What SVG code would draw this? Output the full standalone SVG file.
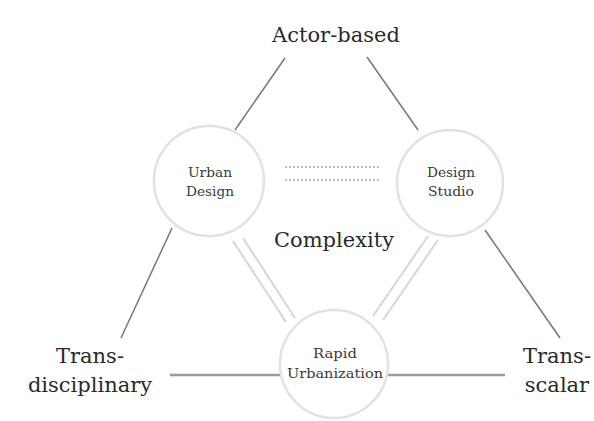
<svg xmlns="http://www.w3.org/2000/svg" width="594" height="421" viewBox="0 0 594 421">
<style>
.big{font-family:"DejaVu Serif","Liberation Serif",serif;font-size:21px;fill:#2a2a2a;text-anchor:middle}
.small{font-family:"DejaVu Serif","Liberation Serif",serif;font-size:13px;fill:#3a3a3a;text-anchor:middle}
.node{fill:#fff;stroke:#e2e2e2;stroke-width:2.5}
.solid{stroke:#777;stroke-width:1.5;fill:none}
.solidh{stroke:#9a9a9a;stroke-width:2.5;fill:none}
.dbl{stroke:#d6d6d6;stroke-width:2;fill:none}
.dot{stroke:#bbb;stroke-width:2;stroke-dasharray:2 2;fill:none}
</style>
<rect width="594" height="421" fill="#fff"/>
<g id="connectors">
<line class="solid" x1="285" y1="58" x2="235" y2="130"/>
<line class="solid" x1="367" y1="57" x2="418" y2="130"/>
<line class="solid" x1="172" y1="228" x2="121" y2="338"/>
<line class="solid" x1="485" y1="230" x2="560" y2="338"/>
<line class="solidh" x1="170" y1="375" x2="283" y2="375"/>
<line class="solidh" x1="387" y1="375" x2="505" y2="375"/>
<line class="dbl" x1="233" y1="241" x2="286" y2="322"/>
<line class="dbl" x1="243" y1="238" x2="295" y2="318"/>
<line class="dbl" x1="438" y1="240" x2="383" y2="320"/>
<line class="dbl" x1="428" y1="236" x2="373" y2="316"/>
<line class="dot" x1="285" y1="167" x2="380" y2="167"/>
<line class="dot" x1="285" y1="180" x2="380" y2="180"/>
</g>
<g id="urban-design">
<circle class="node" cx="209" cy="181" r="55"/>
<text class="small" x="210" y="177" textLength="44" lengthAdjust="spacingAndGlyphs">Urban</text>
<text class="small" x="210" y="196" textLength="48" lengthAdjust="spacingAndGlyphs">Design</text>
</g>
<g id="design-studio">
<circle class="node" cx="450" cy="183" r="53"/>
<text class="small" x="451" y="177" textLength="48" lengthAdjust="spacingAndGlyphs">Design</text>
<text class="small" x="451" y="196" textLength="46" lengthAdjust="spacingAndGlyphs">Studio</text>
</g>
<g id="rapid-urbanization">
<circle class="node" cx="334" cy="364" r="54"/>
<text class="small" x="335" y="358" textLength="44" lengthAdjust="spacingAndGlyphs">Rapid</text>
<text class="small" x="335" y="378" textLength="96" lengthAdjust="spacingAndGlyphs">Urbanization</text>
</g>
<g id="actor-based"><text class="big" x="336" y="42" font-size="22">Actor-based</text></g>
<g id="complexity"><text class="big" x="334" y="247" font-size="21.5">Complexity</text></g>
<g id="trans-disciplinary"><text class="big" x="90" y="363" font-size="20">Trans-</text><text class="big" x="90" y="392" font-size="20.5">disciplinary</text></g>
<g id="trans-scalar"><text class="big" x="557" y="363">Trans-</text><text class="big" x="557" y="392">scalar</text></g>
</svg>
